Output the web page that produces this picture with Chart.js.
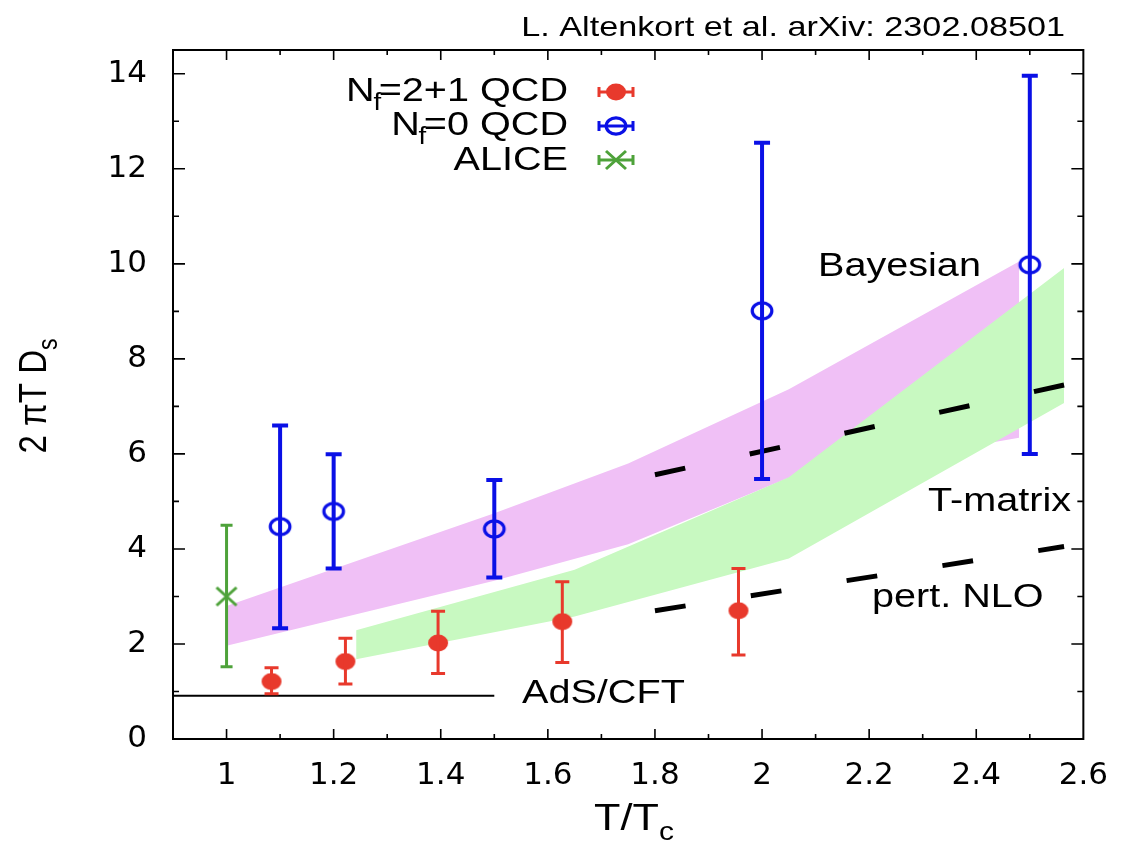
<!DOCTYPE html>
<html>
<head>
<meta charset="utf-8">
<script src="https://cdn.jsdelivr.net/npm/chart.js@4.4.1/dist/chart.umd.min.js"></script>
<style>
  html, body { margin: 0; padding: 0; background: #fff; overflow: hidden; }
  canvas { display: block; }
</style>
</head>
<body>
<canvas id="c" width="1126" height="844"></canvas>
<script>
// Heavy-quark spatial diffusion coefficient 2πT·D_s versus T/T_c

// axis ticks
const xTickValues = [1, 1.2, 1.4, 1.6, 1.8, 2, 2.2, 2.4, 2.6];
const xTickLabels = ['1', '1.2', '1.4', '1.6', '1.8', '2', '2.2', '2.4', '2.6'];
const yTickValues = [0, 2, 4, 6, 8, 10, 12, 14];
const yTickLabels = ['0', '2', '4', '6', '8', '10', '12', '14'];

// N_f = 2+1 lattice QCD
const qcd21T  = [1.084, 1.222, 1.395, 1.627, 1.956];
const qcd21D  = [1.21, 1.63, 2.02, 2.47, 2.70];
const qcd21Lo = [0.95, 1.16, 1.38, 1.61, 1.77];
const qcd21Hi = [1.50, 2.12, 2.69, 3.31, 3.59];

// N_f = 0 (quenched) lattice QCD
const qcd0T  = [1.1, 1.2, 1.5, 2.0, 2.5];
const qcd0D  = [4.47, 4.79, 4.42, 9.01, 9.98];
const qcd0Lo = [2.33, 3.59, 3.40, 5.47, 6.00];
const qcd0Hi = [6.60, 5.99, 5.45, 12.55, 13.96];

// ALICE
const aliceT  = [1.0];
const aliceD  = [3.0];
const aliceLo = [1.52];
const aliceHi = [4.50];

// Bayesian analysis band
const bayesT  = [1.0, 1.5, 1.75, 2.05, 2.48];
const bayesHi = [2.80, 4.75, 5.80, 7.36, 10.05];
const bayesLo = [1.96, 3.33, 4.10, 5.50, 6.34];

// T-matrix band
const tmatT  = [1.242, 1.65, 2.05, 2.564];
const tmatHi = [2.29, 3.56, 5.51, 9.91];
const tmatLo = [1.68, 2.58, 3.80, 7.07];

// perturbative NLO (two scale choices)
const nloT  = [1.8, 2.564];
const nloHi = [5.56, 7.45];
const nloLo = [2.70, 4.05];

// AdS/CFT
const adsT = [0.9, 1.5];
const adsD = [0.91, 0.91];

const RED = '#e8392c';
const BLUE = '#0a10e6';
const GREEN = '#4ea23a';
const VIOLET_FILL = '#f0c0f6';
const GREEN_FILL = '#c8f9c1';
const SANS = '"Liberation Sans", Arial, Helvetica, sans-serif';
const SX = 1.2; // wide glyph set

const pts = (xs, ys) => xs.map((v, i) => ({ x: v, y: ys[i] }));

function markerCanvas(w, h, draw) {
  const c = document.createElement('canvas');
  c.width = w; c.height = h;
  draw(c.getContext('2d'), w / 2, h / 2);
  return c;
}
function paintDot(g, cx, cy) {
  g.fillStyle = RED; g.beginPath(); g.ellipse(cx, cy, 10, 8.4, 0, 0, 2 * Math.PI); g.fill();
}
function paintRing(g, cx, cy) {
  g.strokeStyle = BLUE; g.lineWidth = 3.2; g.beginPath(); g.ellipse(cx, cy, 9.8, 8.2, 0, 0, 2 * Math.PI); g.stroke();
}
function paintCross(g, cx, cy) {
  g.strokeStyle = GREEN; g.lineWidth = 3; g.beginPath();
  g.moveTo(cx - 10, cy - 9); g.lineTo(cx + 10, cy + 9);
  g.moveTo(cx - 10, cy + 9); g.lineTo(cx + 10, cy - 9); g.stroke();
}
const redDot = markerCanvas(22, 18, paintDot);
const blueRing = markerCanvas(26, 22, paintRing);
const greenCross = markerCanvas(26, 22, paintCross);

function errorBars(ctx, xs, ys, xv, lo, hi, color, lw, cap) {
  ctx.save();
  ctx.strokeStyle = color; ctx.lineWidth = lw; ctx.lineCap = 'butt';
  for (let i = 0; i < xv.length; i++) {
    const px = xs.getPixelForValue(xv[i]);
    const pl = ys.getPixelForValue(lo[i]);
    const ph = ys.getPixelForValue(hi[i]);
    ctx.beginPath();
    ctx.moveTo(px, pl); ctx.lineTo(px, ph);
    ctx.moveTo(px - cap, pl); ctx.lineTo(px + cap, pl);
    ctx.moveTo(px - cap, ph); ctx.lineTo(px + cap, ph);
    ctx.stroke();
  }
  ctx.restore();
}

// text made of runs (normal / subscript), drawn with the wide glyph set
function textRuns(ctx, parts, x, y, align, rotate) {
  ctx.save();
  ctx.translate(x, y);
  ctx.scale(SX, 1);
  if (rotate) ctx.rotate(-Math.PI / 2);
  ctx.fillStyle = '#000';
  ctx.textAlign = 'left';
  ctx.textBaseline = 'alphabetic';
  let total = 0;
  for (const p of parts) {
    ctx.font = p.size + 'px ' + SANS;
    p.w = ctx.measureText(p.t).width + (p.kern || 0);
    total += p.w;
  }
  let u = align === 'right' ? -total : align === 'center' ? -total / 2 : 0;
  for (const p of parts) {
    ctx.font = p.size + 'px ' + SANS;
    ctx.fillText(p.t, u, p.dy || 0);
    u += p.w;
  }
  ctx.restore();
}

function legendSymbol(ctx, cx, cy, color, lw, marker) {
  ctx.save();
  ctx.strokeStyle = color; ctx.lineWidth = lw;
  ctx.beginPath();
  ctx.moveTo(cx - 17, cy); ctx.lineTo(cx + 17, cy);
  ctx.moveTo(cx - 17, cy - 5); ctx.lineTo(cx - 17, cy + 5);
  ctx.moveTo(cx + 17, cy - 5); ctx.lineTo(cx + 17, cy + 5);
  ctx.stroke();
  ctx.drawImage(marker, cx - marker.width / 2, cy - marker.height / 2);
  ctx.restore();
}

const overlay = {
  id: 'overlay',
  afterDatasetsDraw(chart) {
    const { ctx, scales: { x, y } } = chart;
    errorBars(ctx, x, y, aliceT, aliceLo, aliceHi, GREEN, 3, 6);
    errorBars(ctx, x, y, qcd21T, qcd21Lo, qcd21Hi, RED, 3, 7);
    errorBars(ctx, x, y, qcd0T, qcd0Lo, qcd0Hi, BLUE, 4, 8);
  },
  afterDraw(chart) {
    const { ctx, chartArea: ca, scales: { x, y } } = chart;
    ctx.save();
    // frame
    ctx.strokeStyle = '#000';
    ctx.lineWidth = 2;
    ctx.strokeRect(ca.left, ca.top, ca.right - ca.left, ca.bottom - ca.top);
    // inward tick marks on all four sides
    ctx.lineWidth = 1.6;
    ctx.beginPath();
    for (let v = 0; v <= 14; v++) {
      const py = y.getPixelForValue(v);
      const len = v % 2 === 0 ? 12 : 6;
      ctx.moveTo(ca.left, py); ctx.lineTo(ca.left + len, py);
      ctx.moveTo(ca.right, py); ctx.lineTo(ca.right - len, py);
    }
    for (let k = 10; k <= 25; k++) {
      const px = x.getPixelForValue(k / 10);
      const len = k % 2 === 0 ? 10 : 5;
      ctx.moveTo(px, ca.bottom); ctx.lineTo(px, ca.bottom - len);
      ctx.moveTo(px, ca.top); ctx.lineTo(px, ca.top + len);
    }
    ctx.stroke();
    ctx.restore();

    // curve labels
    textRuns(ctx, [{ t: 'Bayesian', size: 33 }], 818, 276, 'left');
    textRuns(ctx, [{ t: 'T-matrix', size: 33 }], 928, 511, 'left');
    textRuns(ctx, [{ t: 'pert. NLO', size: 33 }], 872, 607, 'left');
    textRuns(ctx, [{ t: 'AdS/CFT', size: 33 }], 522, 703, 'left');

    // citation
    textRuns(ctx, [{ t: 'L. Altenkort et al. arXiv: 2302.08501', size: 28.5 }], 1065, 36, 'right');

    // legend
    const lx = 568;
    textRuns(ctx, [{ t: 'N', size: 33, kern: -1 }, { t: 'f', size: 23, dy: 9, kern: -2 }, { t: '=2+1 QCD', size: 33 }], lx, 101, 'right');
    textRuns(ctx, [{ t: 'N', size: 33, kern: -1 }, { t: 'f', size: 23, dy: 9, kern: -2 }, { t: '=0 QCD', size: 33 }], lx, 135, 'right');
    textRuns(ctx, [{ t: 'ALICE', size: 33 }], lx, 170, 'right');
    legendSymbol(ctx, 616, 92, RED, 3, redDot);
    legendSymbol(ctx, 616, 126, BLUE, 3, blueRing);
    legendSymbol(ctx, 616, 160, GREEN, 3, greenCross);

    // axis titles
    textRuns(ctx, [{ t: 'T/T', size: 36 }, { t: 'c', size: 25, dy: 10 }], 634, 830, 'center');
    textRuns(ctx, [{ t: '2 ', size: 33 }, { t: 'πT D', size: 33 }, { t: 's', size: 23, dy: 9 }], 46, 396, 'center', true);
  }
};

new Chart(document.getElementById('c'), {
  type: 'line',
  data: {
    datasets: [
      { label: 'Nf=2+1 QCD', data: pts(qcd21T, qcd21D), showLine: false, pointStyle: redDot, pointRadius: 10, order: 1 },
      { label: 'Nf=0 QCD', data: pts(qcd0T, qcd0D), showLine: false, pointStyle: blueRing, pointRadius: 10, order: 2 },
      { label: 'ALICE', data: pts(aliceT, aliceD), showLine: false, pointStyle: greenCross, pointRadius: 10, order: 3 },
      { label: 'AdS/CFT', data: pts(adsT, adsD), borderColor: '#000', borderWidth: 2, pointRadius: 0, fill: false, order: 5 },
      { label: 'pert. NLO (upper)', data: pts(nloT, nloHi), borderColor: '#000', borderWidth: 5, borderDash: [31, 66], borderCapStyle: 'butt', pointRadius: 0, fill: false, order: 6 },
      { label: 'pert. NLO (lower)', data: pts(nloT, nloLo), borderColor: '#000', borderWidth: 5, borderDash: [31, 66], borderCapStyle: 'butt', pointRadius: 0, fill: false, order: 6 },
      { label: 'T-matrix upper', data: pts(tmatT, tmatHi), borderWidth: 0, borderColor: 'rgba(0,0,0,0)', backgroundColor: GREEN_FILL, pointRadius: 0, fill: '+1', order: 8 },
      { label: 'T-matrix lower', data: pts(tmatT, tmatLo), borderWidth: 0, borderColor: 'rgba(0,0,0,0)', pointRadius: 0, fill: false, order: 9 },
      { label: 'Bayesian upper', data: pts(bayesT, bayesHi), borderWidth: 0, borderColor: 'rgba(0,0,0,0)', backgroundColor: VIOLET_FILL, pointRadius: 0, fill: '+1', order: 10 },
      { label: 'Bayesian lower', data: pts(bayesT, bayesLo), borderWidth: 0, borderColor: 'rgba(0,0,0,0)', pointRadius: 0, fill: false, order: 11 }
    ]
  },
  options: {
    responsive: false,
    animation: false,
    devicePixelRatio: 1,
    events: [],
    layout: { padding: { top: 50, right: 41, left: 0, bottom: 0 } },
    elements: { line: { tension: 0 } },
    plugins: { legend: { display: false }, tooltip: { enabled: false } },
    scales: {
      x: {
        type: 'linear', min: 0.9, max: 2.6,
        grid: { display: false, drawTicks: false },
        border: { display: false },
        afterBuildTicks: s => { s.ticks = xTickValues.map(v => ({ value: v })); },
        afterFit: s => { s.height = 105; },
        ticks: {
          callback: (v, i) => xTickLabels[i],
          font: { family: '"DejaVu Sans", sans-serif', size: 31 },
          color: '#000', padding: 18, maxRotation: 0, autoSkip: false
        }
      },
      y: {
        type: 'linear', min: 0, max: 14.5,
        grid: { display: false, drawTicks: false },
        border: { display: false },
        afterBuildTicks: s => { s.ticks = yTickValues.map(v => ({ value: v })); },
        afterFit: s => { s.width = 173; },
        ticks: {
          callback: (v, i) => yTickLabels[i],
          font: { family: '"DejaVu Sans", sans-serif', size: 31 },
          color: '#000', padding: 26, autoSkip: false
        }
      }
    }
  },
  plugins: [overlay]
});
</script>
</body>
</html>
